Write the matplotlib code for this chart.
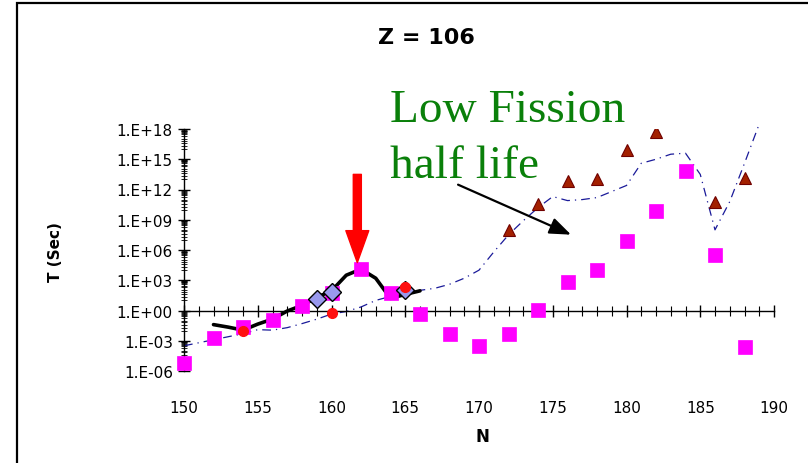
import numpy as np
import matplotlib
matplotlib.use("Agg")
import matplotlib.pyplot as plt
from matplotlib.patches import Rectangle
from matplotlib.ticker import FixedLocator, MultipleLocator, NullFormatter

# ---- data (log10 of T in seconds) ----
sq_N = [150, 152, 154, 156, 158, 160, 162, 164, 166, 168, 170, 172, 174, 176, 178, 180, 182, 184, 186, 188]
sq_logT = [-5.25, -2.74, -1.68, -0.96, 0.46, 1.78, 4.09, 1.78, -0.37, -2.35, -3.5, -2.35, 0.07, 2.87, 4.0, 6.9, 9.85, 13.8, 5.5, -3.66]

tri_N = [172, 174, 176, 178, 180, 182, 186, 188]
tri_logT = [7.95, 10.6, 12.84, 13.0, 15.9, 17.7, 10.76, 13.14]

circ_N = [154, 160, 165]
circ_logT = [-2.0, -0.27, 2.38]

dia_N = [159, 160, 165]
dia_logT = [1.19, 1.85, 2.05]

exp_N = [152, 153, 154, 155, 156, 157, 158, 159, 160, 161, 162, 163, 164, 165, 166]
exp_logT = [-1.4, -1.65, -1.95, -1.35, -0.85, -0.05, 0.5, 1.3, 1.95, 3.5, 4.1, 3.2, 1.2, 1.6, 1.95]

th_N = list(range(150, 190))
th_logT = [-3.5, -3.2, -2.9, -2.6, -2.3, -1.9, -1.95, -1.7, -1.3, -0.86,
           -0.35, -0.1, 0.35, 1.0, 1.4, 1.7, 2.0, 2.2, 2.6, 3.2,
           4.0, 5.8, 7.5, 8.9, 10.2, 11.3, 10.9, 11.0, 11.2, 11.8,
           12.4, 14.6, 15.0, 15.5, 15.6, 13.5, 8.0, 10.8, 14.6, 18.5]

x_ticks = [150, 155, 160, 165, 170, 175, 180, 185, 190]
y_ticks = [1e-6, 1e-3, 1e0, 1e3, 1e6, 1e9, 1e12, 1e15, 1e18]
y_labels = ["1.E-06", "1.E-03", "1.E+00", "1.E+03", "1.E+06", "1.E+09", "1.E+12", "1.E+15", "1.E+18"]

title = "Z = 106"
xlabel = "N"
ylabel = "T (Sec)"
note_lines = ["Low Fission", "half life"]

def p(v):
    return [10.0 ** t for t in v]

W, H = 808, 464
fig = plt.figure(figsize=(W / 100, H / 100), dpi=100)
fig.patch.set_facecolor("white")

# outer frame
fig.patches.append(Rectangle((17 / W, -0.05), 1.2, (H - 4) / H + 0.05, transform=fig.transFigure,
                             fill=False, edgecolor="black", linewidth=1.6))

ax = fig.add_axes([184 / W, (H - 372) / H, 590 / W, 242 / H])
ax.set_facecolor("none")
ax.set_yscale("log")
ax.set_xlim(150, 190)
ax.set_ylim(1e-6, 1e18)

# series
ax.plot(th_N, p(th_logT), color="#1a1a99", lw=0.9, ls=(0, (7, 4, 1, 4)), zorder=2, clip_on=False)
ax.plot(exp_N, p(exp_logT), color="black", lw=2.6, zorder=3, solid_capstyle="round")
ax.plot(sq_N, p(sq_logT), ls="none", marker="s", ms=10, mfc="#ff00ff", mec="#ff00ff", mew=0.5, zorder=4, clip_on=False)
ax.plot(dia_N, p(dia_logT), ls="none", marker="D", ms=9, mfc="#9999ee", mec="black", mew=1.0, zorder=5)
ax.plot(circ_N, p(circ_logT), ls="none", marker="o", ms=7, mfc="#ff1010", mec="#ff1010", zorder=6)
ax.plot(tri_N, p(tri_logT), ls="none", marker="^", ms=8.5, mfc="#a32000", mec="#700000", mew=0.8, zorder=6)

# axes styling
for s in ["top", "right"]:
    ax.spines[s].set_visible(False)
ax.spines["bottom"].set_position(("data", 1.0))
ax.spines["bottom"].set_bounds(150, 190)
ax.spines["left"].set_bounds(1e-6, 1e18)
ax.spines["left"].set_linewidth(1.0)
ax.spines["bottom"].set_linewidth(1.0)

ax.xaxis.set_major_locator(FixedLocator(x_ticks))
ax.xaxis.set_minor_locator(MultipleLocator(1))
ax.tick_params(axis="x", which="major", direction="inout", length=9, width=1.0, labelbottom=False)
ax.tick_params(axis="x", which="minor", direction="inout", length=7, width=0.8)

ax.yaxis.set_major_locator(FixedLocator(y_ticks))
ax.set_yticklabels(y_labels)
minor_pos = []
for n in range(-6, 18, 3):
    for k in [1, 2, 4, 7]:
        minor_pos.append(k * 10.0 ** (n + 1))
    for k in [1, 2, 3, 4, 5, 6, 7, 8, 9]:
        minor_pos.append(k * 10.0 ** (n + 2))
ax.yaxis.set_minor_locator(FixedLocator(minor_pos))
ax.yaxis.set_minor_formatter(NullFormatter())
ax.tick_params(axis="y", which="major", direction="inout", length=8, width=1.0, labelsize=11, pad=4)
ax.tick_params(axis="y", which="minor", direction="inout", length=5, width=0.6)

for xt in x_ticks:
    ax.text(xt, -0.149, str(xt), transform=ax.get_xaxis_transform(), ha="center", va="center", fontsize=11)

fig.text(426 / W, 1 - 38 / H, title, ha="center", va="center", fontsize=16, fontweight="bold")
fig.text(482 / W, 1 - 437 / H, xlabel, ha="center", va="center", fontsize=12, fontweight="bold")
fig.text(55 / W, 1 - 252 / H, ylabel, ha="center", va="center", rotation=90, fontsize=11, fontweight="bold")

fig.text(390 / W, 1 - 122 / H, note_lines[0], ha="left", va="baseline", fontsize=34,
         family="Liberation Serif", color="#0a800a")
fig.text(390 / W, 1 - 178 / H, note_lines[1], ha="left", va="baseline", fontsize=34,
         family="Liberation Serif", color="#0a800a")

# annotation arrows
ax.annotate("", xy=(176.24, 10 ** 7.52), xytext=(168.58, 10 ** 12.48),
            arrowprops=dict(arrowstyle="-|>,head_length=0.65,head_width=0.25", color="black",
                            lw=1.6, mutation_scale=20, shrinkA=0, shrinkB=0), zorder=7)
ax.annotate("", xy=(161.75, 10 ** 4.75), xytext=(161.75, 10 ** 13.5),
            arrowprops=dict(arrowstyle="simple,head_length=2.3,head_width=1.65,tail_width=0.58",
                            color="#ff0000", mutation_scale=10, shrinkA=0, shrinkB=0), zorder=7)

fig.savefig("out.png", dpi=100)
